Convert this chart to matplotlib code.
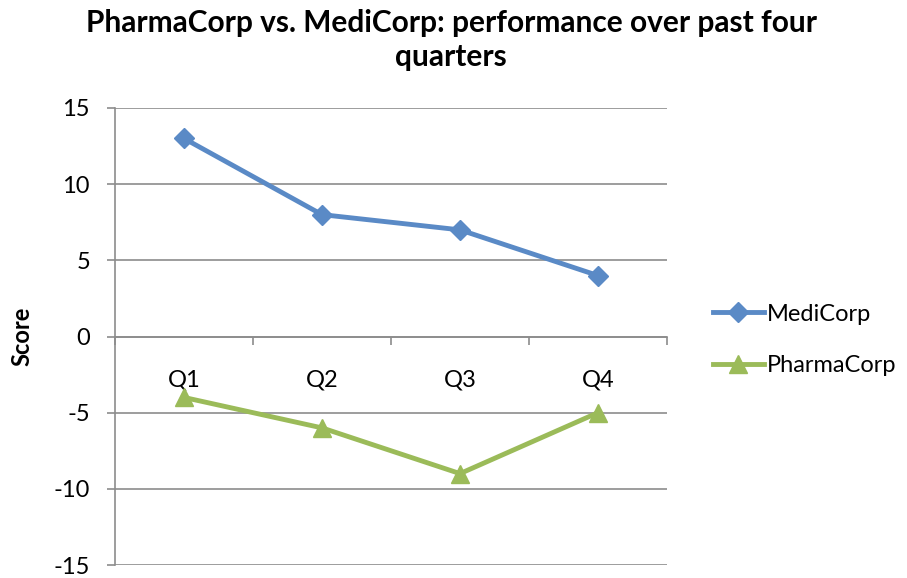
import matplotlib
matplotlib.use("Agg")
import matplotlib.pyplot as plt
from matplotlib.ticker import FixedLocator

plt.rcParams['font.family'] = ['Lato', 'DejaVu Sans']

categories = ["Q1", "Q2", "Q3", "Q4"]
medicorp = [13, 8, 7, 4]
pharmacorp = [-4, -6, -9, -5]
yticks = [-15, -10, -5, 0, 5, 10, 15]

fig = plt.figure(figsize=(9.07, 5.78), dpi=100)
ax = fig.add_axes([115/907, 13/578, 552/907, 457/578])

x = list(range(len(categories)))
ax.plot(x, medicorp, color="#5A8AC6", lw=3.5, marker="D", markersize=10.5,
        label="MediCorp", zorder=3)
ax.plot(x, pharmacorp, color="#9BBB59", lw=3.5, marker="^", markersize=13,
        label="PharmaCorp", zorder=3)

ax.set_xlim(-0.5, 3.5)
ax.set_ylim(-15, 15)
ax.set_yticks(yticks)
ax.set_yticklabels([str(v) for v in yticks])
ax.yaxis.grid(True, color="#8C8C8C", lw=1.2)
ax.set_axisbelow(True)

for s in ["top", "right"]:
    ax.spines[s].set_visible(False)
ax.spines["left"].set_color("#8C8C8C")
ax.spines["left"].set_linewidth(1.2)
ax.spines["bottom"].set_position(("data", 0))
ax.spines["bottom"].set_color("#8C8C8C")
ax.spines["bottom"].set_linewidth(1.2)

ax.set_xticks(x)
ax.set_xticklabels(categories)
ax.xaxis.set_minor_locator(FixedLocator([-0.5, 0.5, 1.5, 2.5, 3.5]))
ax.tick_params(axis="x", which="major", length=0, pad=24, labelsize=17)
ax.tick_params(axis="x", which="minor", length=6, width=1.2, color="#8C8C8C")
ax.tick_params(axis="y", length=6, width=1.2, color="#8C8C8C", labelsize=17, pad=12)

fig.text(22/907, 1 - 336/578, "Score", rotation=90, ha="center", va="center",
         fontsize=17, fontweight="bold")
fig.text(451/907, 1 - 40/578, "PharmaCorp vs. MediCorp: performance over past four\nquarters",
         ha="center", va="center", fontsize=21.5, fontweight="bold", linespacing=1.25)

fig.legend(loc="center left", bbox_to_anchor=(713/907, 1 - 340/578), frameon=False,
           borderpad=0, borderaxespad=0, fontsize=17, handlelength=2.15,
           handletextpad=0.12, labelspacing=1.3)

fig.savefig("out.png", dpi=100)
